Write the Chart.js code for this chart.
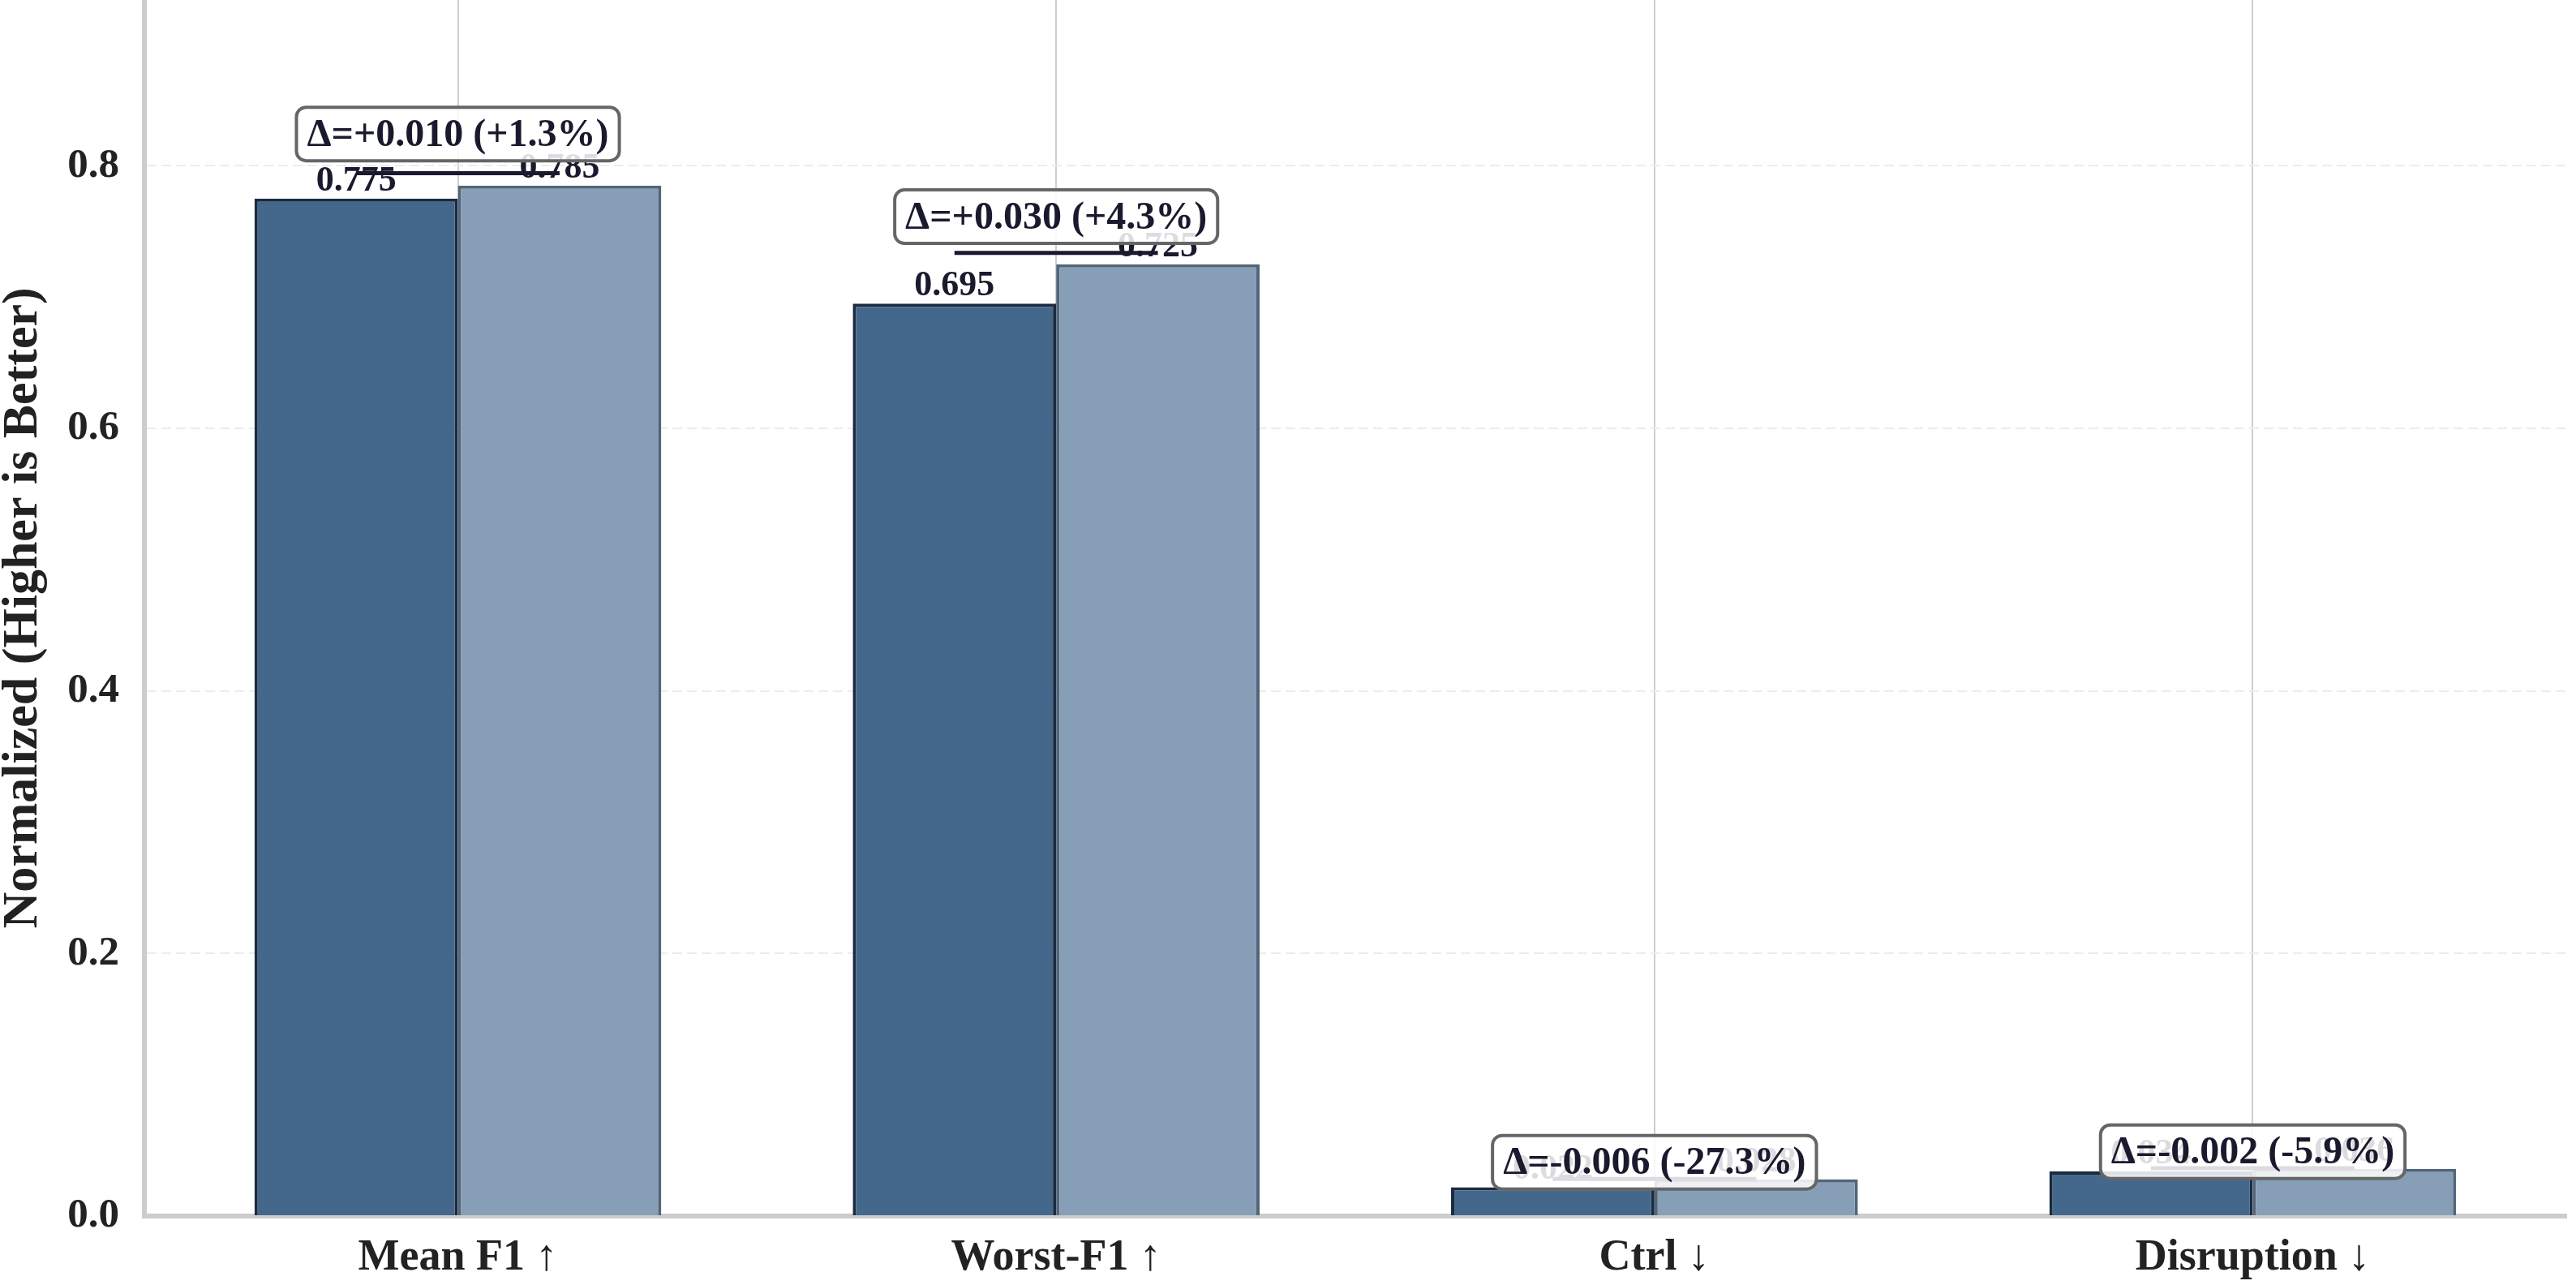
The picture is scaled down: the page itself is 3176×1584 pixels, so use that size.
<!DOCTYPE html>
<html>
<head>
<meta charset="utf-8">
<script src="https://cdn.jsdelivr.net/npm/chart.js@4.4.1/dist/chart.umd.min.js"></script>
<style>
  html, body { margin: 0; padding: 0; background: #fff; }
  #wrap { width: 3176px; height: 1584px; }
</style>
</head>
<body>
<div id="wrap"><canvas id="chart" width="3176" height="1584"></canvas></div>
<script>
// ===== Data =====
const categories = ["Mean F1 ↑", "Worst-F1 ↑", "Ctrl ↓", "Disruption ↓"];
const higherBetter = [true, true, false, false];
const baselineValues = [0.775, 0.695, 0.022, 0.034];
const improvedValues = [0.785, 0.725, 0.028, 0.036];
const yTicks = [0.0, 0.2, 0.4, 0.6, 0.8];

const FONT = "'Liberation Serif', 'Times New Roman', serif";
const INK = "#1a1a2e";

function fmtSigned(v, digits) {
    return (v >= 0 ? "+" : "") + v.toFixed(digits);
}

// rounded box path (manual, in case roundRect is missing)
function boxPath(ctx, x, y, w, h, r) {
    ctx.beginPath();
    ctx.moveTo(x + r, y);
    ctx.arcTo(x + w, y, x + w, y + h, r);
    ctx.arcTo(x + w, y + h, x, y + h, r);
    ctx.arcTo(x, y + h, x, y, r);
    ctx.arcTo(x, y, x + w, y, r);
    ctx.closePath();
}

// ===== Value labels, bracket line and delta box =====
const annotatePlugin = {
    id: "annotate",
    afterDatasetsDraw(chart) {
        const ctx = chart.ctx;
        const ys = chart.scales.y;
        const m0 = chart.getDatasetMeta(0);
        const m1 = chart.getDatasetMeta(1);
        ctx.save();
        ctx.textAlign = "center";

        categories.forEach((_, i) => {
            const b0 = m0.data[i], b1 = m1.data[i];
            const base = baselineValues[i], imp = improvedValues[i];
            const hi = Math.max(base, imp);

            ctx.font = `bold 44px ${FONT}`;
            ctx.fillStyle = INK;
            ctx.textBaseline = "alphabetic";
            ctx.fillText(base.toFixed(3), b0.x, b0.y - 10);
            ctx.fillText(imp.toFixed(3), b1.x, b1.y - 10);

            const ly = ys.getPixelForValue(hi * 1.012);
            ctx.strokeStyle = INK;
            ctx.lineWidth = 5;
            ctx.beginPath();
            ctx.moveTo(b0.x, ly);
            ctx.lineTo(b1.x, ly);
            ctx.stroke();

            const d = higherBetter[i] ? imp - base : base - imp;
            const pct = d / base * 100;
            const label = `Δ=${fmtSigned(d, 3)} (${fmtSigned(pct, 1)}%)`;
            ctx.font = `bold 48px ${FONT}`;
            const cx = (b0.x + b1.x) / 2;
            const cy = ys.getPixelForValue(Math.max(hi * 1.05, hi + 0.013));
            const w = ctx.measureText(label).width + 26;
            const h = 66;
            boxPath(ctx, cx - w / 2, cy - h / 2, w, h, 12);
            ctx.fillStyle = "rgba(255,255,255,0.85)";
            ctx.fill();
            ctx.strokeStyle = "#666666";
            ctx.lineWidth = 4;
            ctx.stroke();

            ctx.fillStyle = INK;
            ctx.textBaseline = "middle";
            ctx.fillText(label, cx, cy + 2);
        });
        ctx.restore();
    }
};

new Chart(document.getElementById("chart"), {
    type: "bar",
    data: {
        datasets: [
            {
                label: "Baseline",
                data: baselineValues.map((v, i) => ({ x: i, y: v })),
                backgroundColor: "#43688c",
                borderColor: "#1c2a40",
                borderWidth: 4,
                categoryPercentage: 0.68,
                barPercentage: 1.0
            },
            {
                label: "Improved",
                data: improvedValues.map((v, i) => ({ x: i, y: v })),
                backgroundColor: "#869fb7",
                borderColor: "#53657a",
                borderWidth: 4,
                categoryPercentage: 0.68,
                barPercentage: 1.0
            }
        ]
    },
    options: {
        responsive: false,
        animation: false,
        devicePixelRatio: 1,
        layout: { padding: { top: 0, right: 12, bottom: 0, left: 0 } },
        plugins: {
            legend: { display: false },
            tooltip: { enabled: false }
        },
        scales: {
            x: {
                type: "linear",
                offset: false,
                bounds: "data",
                min: -0.524,
                max: 3.524,
                afterBuildTicks: s => { s.ticks = categories.map((_, i) => ({ value: i })); },
                afterFit: s => { s.height = 85; s.paddingLeft = 0; s.paddingRight = 0; },
                ticks: {
                    callback: v => categories[v],
                    font: { family: FONT, size: 54, weight: "bold" },
                    color: "#222222",
                    padding: 20,
                    maxRotation: 0,
                    autoSkip: false
                },
                grid: { offset: false, color: "#cfcfcf", lineWidth: 2, drawTicks: false },
                border: { color: "#cccccc", width: 6 }
            },
            y: {
                min: 0,
                max: 0.9263,
                bounds: "data",
                afterBuildTicks: s => { s.ticks = yTicks.map(v => ({ value: v })); },
                afterFit: s => { s.width = 178; s.paddingTop = 0; s.paddingBottom = 0; },
                ticks: {
                    callback: v => v.toFixed(1),
                    font: { family: FONT, size: 51, weight: "bold" },
                    color: "#222222",
                    padding: 31
                },
                grid: { color: "#ececec", lineWidth: 2, drawTicks: false },
                border: { color: "#cccccc", width: 6, dash: [12, 6] },
                title: {
                    display: true,
                    text: "Normalized (Higher is Better)",
                    font: { family: FONT, size: 62, weight: "bold", lineHeight: 0.95 },
                    color: "#222222",
                    padding: 0
                }
            }
        }
    },
    plugins: [annotatePlugin]
});
</script>
</body>
</html>
